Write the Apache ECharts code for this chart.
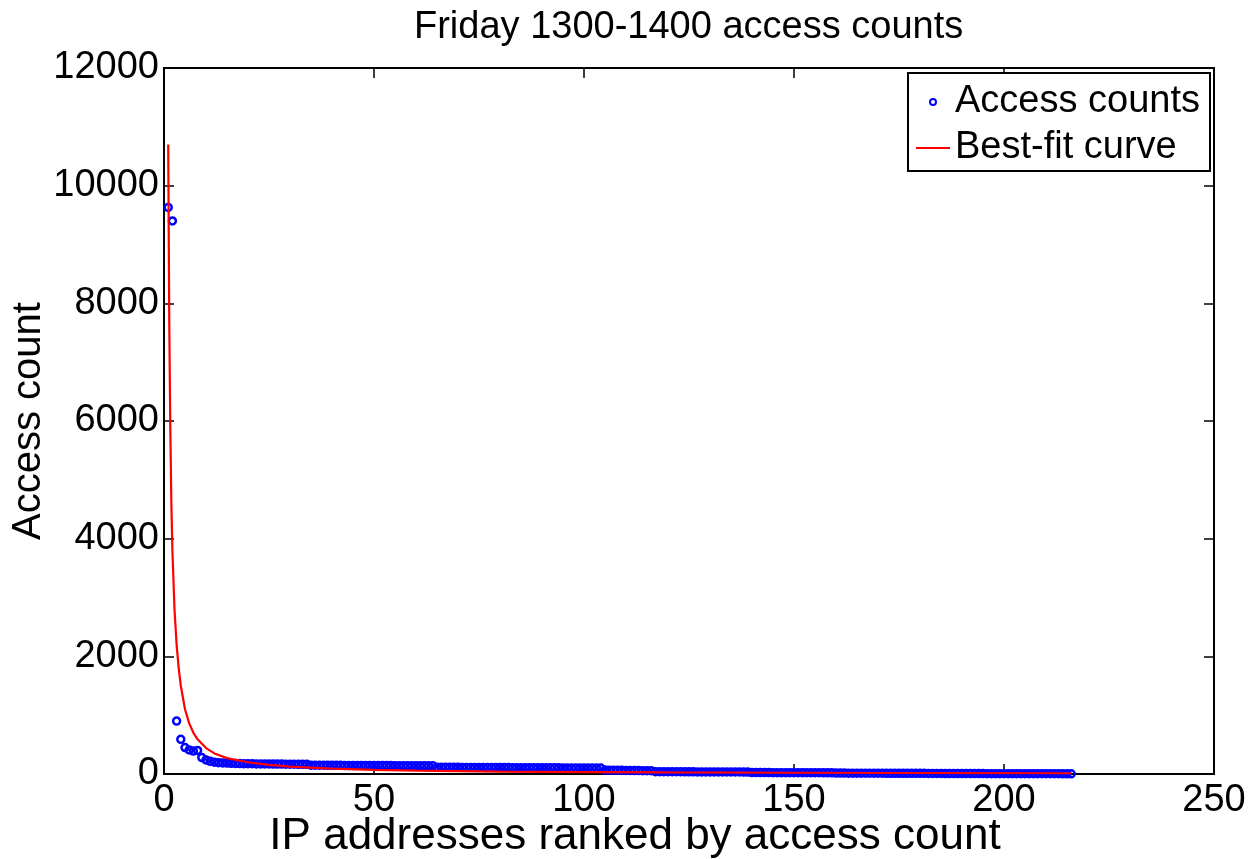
<!DOCTYPE html>
<html>
<head>
<meta charset="utf-8">
<script src="https://cdn.jsdelivr.net/npm/echarts@6/dist/echarts.min.js"></script>
<style>
  html, body { margin: 0; padding: 0; background: #ffffff; }
  #chart { width: 1259px; height: 859px; }
</style>
</head>
<body>
<div id="chart"></div>
<script>
// Texts
const chartTitle = 'Friday 1300-1400 access counts';
const xAxisName = 'IP addresses ranked by access count';
const yAxisName = 'Access count';
const seriesNames = ['Access counts', 'Best-fit curve'];

// Tick labels
const xTickLabels = [0, 50, 100, 150, 200, 250];
const yTickLabels = [0, 2000, 4000, 6000, 8000, 10000, 12000];

// Access count per IP address, ordered by rank (rank = position + 1)
const accessCounts = [
  9630, 9400, 900, 590, 450, 410, 390, 400, 280, 240, 215, 200,
  192, 188, 185, 182, 180, 178, 176, 175, 174, 172, 171, 170, 170, 169, 168, 168, 167, 166, 166, 165, 165, 164,
  150, 150, 149, 149, 148, 148, 147, 147, 146, 146, 146, 145, 145, 145, 144, 144, 144, 143, 143, 143, 142, 142, 142, 141, 141, 141, 140, 140, 140, 139,
  115, 115, 114, 114, 113, 113, 112, 112, 112, 111, 111, 111, 110, 110, 110, 109, 109, 109, 108, 108, 108, 107, 107, 107, 106, 106, 106, 105, 105, 105, 104, 104, 104, 103, 103, 103, 102, 102, 102, 101,
  66, 65, 64, 63, 62, 61, 60, 59, 58, 57, 56, 55,
  40, 40, 39, 39, 38, 38, 38, 37, 37, 37, 36, 36, 36, 35, 35, 35, 35, 34, 34, 34, 34, 33, 33,
  25, 25, 24, 24, 24, 23, 23, 23, 23, 22, 22, 22, 22, 21, 21, 21, 21, 20, 20, 20,
  15, 15, 15, 14, 14, 14, 14, 13, 13, 13, 13, 13, 12, 12, 12, 12, 12, 11, 11, 11, 11, 11,
  9, 9, 9, 9, 8, 8, 8, 8, 8, 7, 7, 7, 7, 7, 6, 6, 6, 6, 6, 6, 5, 5, 5, 5, 5, 5, 4, 4, 4, 4, 4, 4, 3, 3, 3
];

// Best-fit curve samples (rank, count)
const fitRanks  = [1, 1.25, 1.5, 1.75, 2, 2.5, 3, 3.5, 4, 5, 6, 7, 8, 10, 12, 15, 20, 25, 30, 40, 50, 60, 80, 100, 120, 150, 180, 216];
const fitValues = [10700, 7700, 5900, 4600, 3800, 2800, 2200, 1800, 1500, 1100, 860, 700, 590, 440, 350, 270, 200, 155, 125, 90, 70, 57, 42, 33, 27, 21, 17, 13];

const scatterData = accessCounts.map((v, i) => [i + 1, v]);
const fitData = fitRanks.map((r, i) => [r, fitValues[i]]);

const FONT = 'Liberation Sans, Arial, Helvetica, sans-serif';
const FS = 38;

const xMin = xTickLabels[0], xMax = xTickLabels[xTickLabels.length - 1];
const xStep = xTickLabels[1] - xTickLabels[0];
const yMin = yTickLabels[0], yMax = yTickLabels[yTickLabels.length - 1];
const yStep = yTickLabels[1] - yTickLabels[0];

const lineStyleAxis = { color: '#000', width: 2 };
const tickInside = { show: true, inside: true, length: 10, lineStyle: { color: '#000', width: 1.5 } };
const plainNumber = v => String(v);

const chart = echarts.init(document.getElementById('chart'), null, { renderer: 'canvas' });

chart.setOption({
  backgroundColor: '#ffffff',
  animation: false,
  textStyle: { fontFamily: FONT, color: '#000' },
  title: {
    text: chartTitle,
    left: 409,
    top: 4,
    textStyle: { fontFamily: FONT, fontSize: FS, fontWeight: 'normal', color: '#000' }
  },
  grid: { left: 164, right: 45, top: 68, bottom: 85, containLabel: false, outerBoundsMode: 'none' },
  legend: {
    orient: 'vertical',
    right: 49,
    top: 73,
    padding: [10, 10, 4, 8],
    itemGap: 8,
    itemWidth: 34,
    itemHeight: 6,
    borderColor: '#000',
    borderWidth: 2,
    backgroundColor: '#fff',
    textStyle: { fontFamily: FONT, fontSize: FS, color: '#000' },
    data: [
      { name: seriesNames[0], icon: 'circle',
        itemStyle: { color: 'rgba(0,0,0,0)', borderColor: '#0000ff', borderWidth: 2 } },
      { name: seriesNames[1], icon: 'path://M0,0L34,0L34,2L0,2Z',
        itemStyle: { color: '#ff0000', borderWidth: 0 } }
    ]
  },
  xAxis: [
    {
      type: 'value', position: 'bottom',
      min: xMin, max: xMax, interval: xStep,
      name: xAxisName, nameLocation: 'middle', nameGap: 41, nameMoveOverlap: false,
      nameTextStyle: { fontFamily: FONT, fontSize: 44, color: '#000', padding: [0, 108, 0, 0] },
      axisLine: { show: true, onZero: false, lineStyle: lineStyleAxis },
      axisTick: tickInside,
      axisLabel: { show: true, margin: 8, fontFamily: FONT, fontSize: FS, color: '#000', formatter: plainNumber },
      splitLine: { show: false }
    },
    {
      type: 'value', position: 'top',
      min: xMin, max: xMax, interval: xStep,
      axisLine: { show: true, onZero: false, lineStyle: lineStyleAxis },
      axisTick: tickInside,
      axisLabel: { show: false },
      splitLine: { show: false }
    }
  ],
  yAxis: [
    {
      type: 'value', position: 'left',
      min: yMin, max: yMax, interval: yStep,
      name: yAxisName, nameLocation: 'middle', nameGap: 115, nameMoveOverlap: false,
      nameTextStyle: { fontFamily: FONT, fontSize: 40, color: '#000' },
      axisLine: { show: true, onZero: false, lineStyle: lineStyleAxis },
      axisTick: tickInside,
      axisLabel: { show: true, margin: 5, fontFamily: FONT, fontSize: FS, color: '#000', formatter: plainNumber },
      splitLine: { show: false }
    },
    {
      type: 'value', position: 'right',
      min: yMin, max: yMax, interval: yStep,
      axisLine: { show: true, onZero: false, lineStyle: lineStyleAxis },
      axisTick: tickInside,
      axisLabel: { show: false },
      splitLine: { show: false }
    }
  ],
  series: [
    {
      name: seriesNames[0],
      type: 'scatter',
      xAxisIndex: 0, yAxisIndex: 0,
      symbol: 'circle',
      symbolSize: 7,
      itemStyle: { color: 'rgba(0,0,0,0)', borderColor: '#0000ff', borderWidth: 2.5, opacity: 1 },
      data: scatterData,
      z: 2
    },
    {
      name: seriesNames[1],
      type: 'line',
      xAxisIndex: 0, yAxisIndex: 0,
      symbol: 'none',
      smooth: false,
      lineStyle: { color: '#ff0000', width: 2.2 },
      itemStyle: { color: '#ff0000' },
      data: fitData,
      z: 3
    }
  ]
});
</script>
</body>
</html>
